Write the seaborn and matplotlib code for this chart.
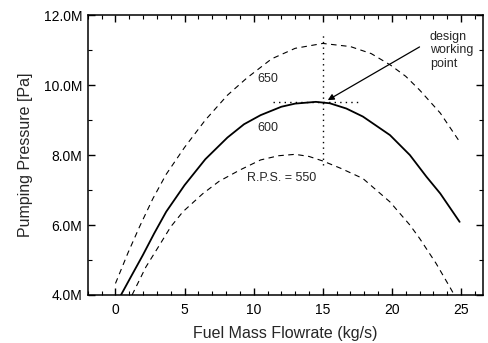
import numpy as np
import pandas as pd
import matplotlib
matplotlib.use("Agg")
import matplotlib.pyplot as plt
import seaborn as sns
from matplotlib.ticker import FuncFormatter, MultipleLocator

# ---- data ----
x_650 = [0.0, 0.9, 1.74, 2.7, 3.67, 5.0, 6.5, 8.1, 9.5, 11.3, 13.0, 15.0, 17.0, 18.5, 19.9, 21.0, 22.0, 23.5, 24.9]
y_650 = [4.33, 5.2, 5.95, 6.75, 7.45, 8.22, 9.0, 9.71, 10.2, 10.75, 11.05, 11.19, 11.1, 10.9, 10.57, 10.25, 9.86, 9.2, 8.38]

x_600 = [0.3, 1.2, 1.98, 2.8, 3.67, 5.0, 6.5, 8.1, 9.3, 10.5, 12.0, 13.0, 14.5, 15.5, 16.7, 17.9, 19.86, 21.3, 22.5, 23.5, 24.9]
y_600 = [3.93, 4.58, 5.14, 5.76, 6.38, 7.14, 7.88, 8.5, 8.88, 9.14, 9.38, 9.47, 9.52, 9.48, 9.33, 9.10, 8.57, 8.0, 7.38, 6.9, 6.09]

x_550 = [1.2, 2.2, 3.19, 4.0, 4.88, 6.33, 7.5, 8.99, 10.5, 11.8, 13.0, 14.0, 15.0, 16.3, 17.9, 19.86, 21.3, 22.0, 23.2, 24.2, 24.8]
y_550 = [4.0, 4.8, 5.43, 5.95, 6.38, 6.9, 7.25, 7.57, 7.86, 7.98, 8.02, 7.96, 7.83, 7.62, 7.33, 6.66, 6.0, 5.62, 4.9, 4.22, 3.8]

labels_rps = ["650", "600", "R.P.S. = 550"]
label_pos_x = [11.0, 11.0, 12.0]
label_pos_y = [10.17, 8.77, 7.34]

design_x = 15.0
design_y = 9.52
vline_y = [7.71, 11.52]
hline_x = [11.4, 17.8]
annot_text = "design\nworking\npoint"
annot_xy = (15.36, 9.57)
annot_text_xy = (22.0, 11.09)
annot_label_xy = (22.75, 11.55)

xticks = [0, 5, 10, 15, 20, 25]
yticks = [4, 6, 8, 10, 12]

# ---- style ----
sns.set_theme(style="ticks")
plt.rcParams["font.family"] = ["Liberation Sans", "DejaVu Sans"]

fig = plt.figure(figsize=(4.88, 3.43), dpi=100)
ax = fig.add_axes([0.180, 0.140, 0.810, 0.816])

df = pd.concat([
    pd.DataFrame({"x": x_650, "y": np.array(y_650) * 1e6, "rps": "650"}),
    pd.DataFrame({"x": x_600, "y": np.array(y_600) * 1e6, "rps": "600"}),
    pd.DataFrame({"x": x_550, "y": np.array(y_550) * 1e6, "rps": "550"}),
])

dash = (0, (5, 4))
for name, lw, ls in [("650", 0.8, dash), ("600", 1.3, "-"), ("550", 0.8, dash)]:
    sub = df[df["rps"] == name]
    sns.lineplot(data=sub, x="x", y="y", ax=ax, color="black", linewidth=lw,
                 linestyle=ls, sort=False, estimator=None, legend=False)

# design point dotted guides
ax.plot([design_x, design_x], [vline_y[0] * 1e6, vline_y[1] * 1e6], color="black",
        linestyle=(0, (1, 3)), linewidth=1.0)
ax.plot(hline_x, [design_y * 1e6, design_y * 1e6], color="black",
        linestyle=(0, (1, 3)), linewidth=1.0)

for t, tx, ty in zip(labels_rps, label_pos_x, label_pos_y):
    ax.text(tx, ty * 1e6, t, ha="center", va="center", fontsize=9)

ax.annotate("", xy=(annot_xy[0], annot_xy[1] * 1e6),
            xytext=(annot_text_xy[0], annot_text_xy[1] * 1e6),
            arrowprops=dict(arrowstyle="-|>", color="black", lw=0.9,
                            mutation_scale=9, shrinkA=0, shrinkB=0))
ax.text(annot_label_xy[0], annot_label_xy[1] * 1e6, annot_text, ha="left", va="top",
        fontsize=9, linespacing=1.15)

ax.set_xlim(-2.0, 26.6)
ax.set_ylim(4e6, 12e6)
ax.set_xticks(xticks)
ax.set_yticks([v * 1e6 for v in yticks])
ax.xaxis.set_minor_locator(MultipleLocator(1))
ax.yaxis.set_minor_locator(MultipleLocator(1e6))
ax.yaxis.set_major_formatter(FuncFormatter(lambda v, p: f"{v/1e6:.1f}M"))

ax.tick_params(which="both", direction="in", top=True, right=True, colors="black",
               labelsize=10)
ax.tick_params(which="major", length=5, width=1.0)
ax.tick_params(which="minor", length=3, width=0.8)
ax.tick_params(axis="x", pad=6)
ax.tick_params(axis="y", pad=4)
for s in ax.spines.values():
    s.set_color("black")
    s.set_linewidth(1.1)

ax.set_xlabel("Fuel Mass Flowrate (kg/s)", fontsize=11.5, labelpad=6)
ax.set_ylabel("Pumping Pressure [Pa]", fontsize=11.5, labelpad=8)

fig.savefig("out.png", dpi=100)
